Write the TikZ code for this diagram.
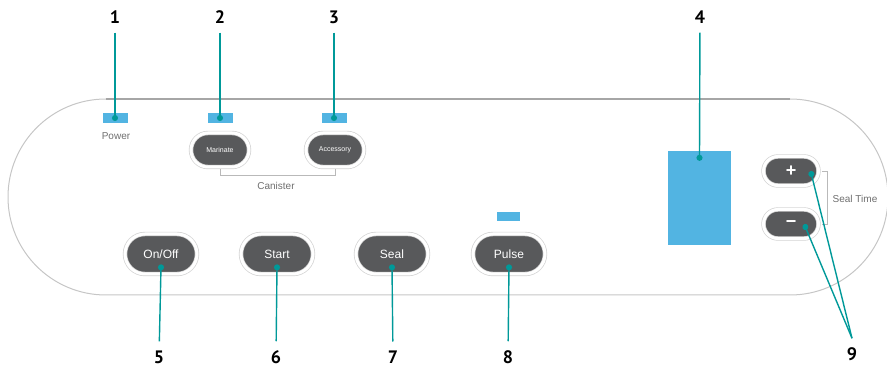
\documentclass[tikz,border=0pt]{standalone}
\usepackage{fontspec}
\setmainfont{Liberation Sans}
\newfontfamily\calloutfont{PT Sans}
\usepackage{xcolor}
\usetikzlibrary{arrows.meta,positioning,shapes.misc,calc}
\definecolor{tealline}{RGB}{0,153,153}
\definecolor{ledblue}{RGB}{82,180,226}
\definecolor{knobgray}{RGB}{88,89,91}
\definecolor{paneltext}{RGB}{110,110,110}
\tikzset{
    painel/.style={draw=gray!45, line width=1pt},
    led/.style={
        rectangle,
        fill=ledblue,
        inner sep=0pt,
        minimum width=25pt,
        minimum height=10pt
    },
    botao/.style={
        rounded rectangle,
        fill=knobgray,
        draw=gray!35,
        double=white,
        double distance=3pt,
        line width=0.7pt,
        text=white,
        inner sep=0pt,
        minimum width=72pt,
        minimum height=40pt,
        font=\fontsize{12}{12}\selectfont
    },
    botaoMini/.style={botao, minimum width=58pt, minimum height=34pt, font=\fontsize{7}{7}\selectfont},
    botaoAjuste/.style={botao, minimum width=55pt, minimum height=29pt, font=\fontsize{18}{18}\selectfont\bfseries},
    rotulo/.style={text=paneltext, inner sep=1pt, font=\fontsize{10}{10}\selectfont},
    numero/.style={inner xsep=2pt, inner ysep=9pt, font=\calloutfont\bfseries\fontsize{18}{18}\selectfont},
    chamada/.style={draw=tealline, line width=1.4pt, shorten >=-3pt, -{Circle[length=6pt]}},
    chave/.style={draw=gray!55, line width=0.8pt}
}

\begin{document}
\begin{tikzpicture}[x=1pt, y=-1pt]
    \useasboundingbox (0,0) rectangle (887,374);

    % panel outline
    \draw[painel, rounded corners=97.9pt] (8,99) rectangle (888,295);
    \draw[gray!70, line width=1.3pt] (106,99) -- (790,99);

    % upper row
    \node[led] (ledPower) at (115,118) {};
    \node[rotulo] (txtPower) at (116,136) {Power};
    \node[led] (ledMarinate) at (220,118) {};
    \node[led] (ledAccessory) at (334,118) {};
    \node[botaoMini] (marinate) at (220,150) {Marinate};
    \node[botaoMini] (accessory) at (335,150) {Accessory};
    \node[rotulo] (txtCanister) at (276,186) {Canister};
    \draw[chave] ([yshift=-2pt]marinate.south) -- ++(0,6) -| ([yshift=-2pt]accessory.south);

    % lower row
    \node[botao] (onoff) at (161,254) {On/Off};
    \node[botao] (start) at (277,254) {Start};
    \node[botao] (seal) at (392,254) {Seal};
    \node[botao] (pulse) at (509,254) {Pulse};
    \node[led, minimum width=23pt, minimum height=9pt] (ledPulse) at (508,217) {};

    % display and seal time
    \node[rectangle, fill=ledblue, minimum width=63pt, minimum height=94pt] (display) at (699.5,198) {};
    \node[botaoAjuste] (mais) at (791,171) {+};
    \node[botaoAjuste] (menos) at (791,224) {−};
    \draw[chave] ([xshift=3pt]mais.east) -- ++(6,0) |- ([xshift=3pt]menos.east);
    \node[rotulo] (txtSealTime) at (855,199) {Seal Time};

    % callout numbers
    \node[numero] (n1) at (115,17) {1};
    \node[numero] (n2) at (220,17) {2};
    \node[numero] (n3) at (334,17) {3};
    \node[numero] (n4) at (700,17) {4};
    \node[numero] (n5) at (159,357) {5};
    \node[numero] (n6) at (276,357) {6};
    \node[numero] (n7) at (393,357) {7};
    \node[numero] (n8) at (508,357) {8};
    \node[numero] (n9) at (852,354) {9};

    \draw[chamada] (n1) -- (ledPower.center);
    \draw[chamada] (n2) -- (ledMarinate.center);
    \draw[chamada] (n3) -- (ledAccessory.center);
    \draw[chamada] (n4) -- ([yshift=-7pt]display.north);
    \draw[chamada] (n5) -- ([yshift=7pt]onoff.south);
    \draw[chamada] (n6) -- ([yshift=7pt]start.south);
    \draw[chamada] (n7) -- ([yshift=7pt]seal.south);
    \draw[chamada] (n8) -- ([yshift=7pt]pulse.south);
    \draw[chamada] (n9.north) -- ([xshift=-7.5pt, yshift=-3pt]mais.east);
    \draw[chamada] (n9.north) -- ([xshift=-13.5pt, yshift=-3pt]menos.east);
\end{tikzpicture}
\end{document}
